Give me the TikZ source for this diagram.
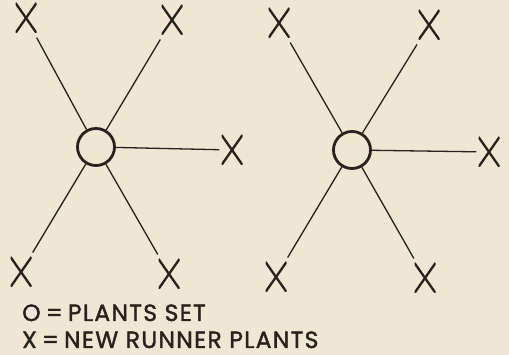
\documentclass[tikz,border=0pt]{standalone}
\usepackage{fontspec}
\setmainfont{Poppins}[FakeBold=1.5,LetterSpace=5.5]
\definecolor{bg}{RGB}{239,230,212}
\definecolor{ink}{RGB}{40,34,30}
\begin{document}
\begin{tikzpicture}[x=1pt,y=-1pt,
  xmark/.style={minimum width=21pt,minimum height=30pt,inner sep=0pt,
    path picture={\draw[ink,line width=2.3pt]
      (path picture bounding box.north west) -- (path picture bounding box.south east)
      (path picture bounding box.north east) -- (path picture bounding box.south west);}},
  plant/.style={circle,draw=ink,line width=2.8pt,minimum size=37pt,inner sep=0pt},
  runner/.style={ink,line width=1.3pt,shorten >=5pt},
  legend/.style={anchor=base west,inner sep=0pt,text=ink,font=\fontsize{23.5}{28}\selectfont}]
\fill[bg] (0,0) rectangle (509,355);
\useasboundingbox (0,0) rectangle (509,355);
% left group
\node[plant] (c1) at (96,147) {};
\node[xmark] (a1) at (26,18) {};
\node[xmark] (b1) at (172,20) {};
\node[xmark] (r1) at (232,150) {};
\node[xmark] (d1) at (21,272) {};
\node[xmark] (e1) at (169,274) {};
\draw[runner] (c1) -- (a1);
\draw[runner] (c1) -- (b1);
\draw[runner,shorten >=2pt] (c1) -- (r1);
\draw[runner] (c1) -- (d1);
\draw[runner] (c1) -- (e1);
% right group
\node[plant] (c2) at (352,150) {};
\node[xmark] (a2) at (279,23) {};
\node[xmark] (b2) at (429,25) {};
\node[xmark] (r2) at (489,152) {};
\node[xmark] (d2) at (276,277) {};
\node[xmark] (e2) at (425,278) {};
\draw[runner] (c2) -- (a2);
\draw[runner] (c2) -- (b2);
\draw[runner,shorten >=2pt] (c2) -- (r2);
\draw[runner] (c2) -- (d2);
\draw[runner] (c2) -- (e2);
% legend
\node[legend] (l1) at (22,321) {O\hspace{0.22em}=\hspace{0.22em}PLANTS SET};
\node[legend] (l2) at (22,348) {X\hspace{0.22em}=\hspace{0.22em}NEW RUNNER PLANTS};
\end{tikzpicture}
\end{document}
